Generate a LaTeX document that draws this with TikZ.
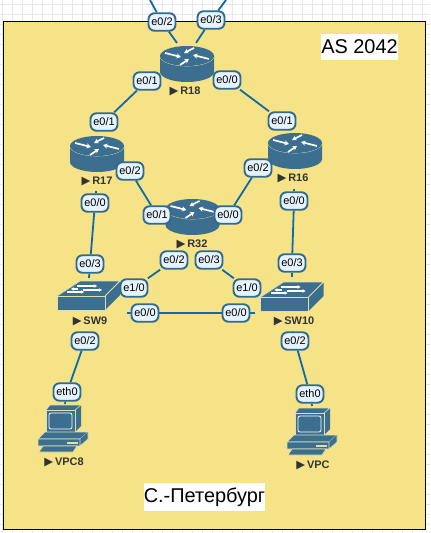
\documentclass[tikz,border=0pt]{standalone}
\usepackage{fontspec}
\usetikzlibrary{arrows.meta}
\setmainfont{Liberation Sans}
\newfontfamily\symfont{DejaVu Sans}
\definecolor{deskyellow}{HTML}{F6E388}
\definecolor{gear}{HTML}{3C6E8F}
\definecolor{gearedge}{HTML}{DCE0B0}
\definecolor{wire}{HTML}{0F6BA8}
\definecolor{pillfill}{HTML}{E6F3FD}
\definecolor{pilledge}{HTML}{2F6A8F}
\definecolor{tagtext}{HTML}{333333}
\tikzset{
  port/.style={draw=pilledge,fill=pillfill,line width=1.9bp,rounded corners=6bp,
    minimum width=27bp,minimum height=17.5bp,inner sep=0pt,font=\fontsize{11}{12}\selectfont},
  link/.style={draw=wire,line width=1.8bp},
  tag/.style={text=tagtext,inner sep=0pt,font=\fontsize{11}{12}\selectfont\bfseries},
  note/.style={fill=white,inner sep=0pt,font=\fontsize{20}{24}\selectfont},
  router/.pic={
    \fill[gear] (-27,-6) -- (-27,10) arc[start angle=180,end angle=0,x radius=27,y radius=10] -- (27,-6) -- cycle;
    \draw[gearedge,line width=.7bp] (-27,-6) arc[start angle=180,end angle=0,x radius=27,y radius=10];
    \fill[gear] (0,-6) ellipse[x radius=27,y radius=10];
    \foreach \a/\b/\c/\d in {-22/-9/-6/-5,22/-3/6/-7,-7/3/2/-3,7/-14/-3/-9}
      \draw[white,line width=1.7bp,-{Stealth[length=4.5bp,width=5bp]}] (\a,\b) -- (\c,\d);
  },
  switchbox/.pic={
    \fill[gear] (-24,-7) -- (-1,-22) -- (39,-22) -- (39,-8) -- (24,7) -- (-24,7) -- cycle;
    \draw[gearedge,line width=.8bp] (-24,-7) rectangle (24,7);
    \draw[gearedge,line width=.8bp] (-24,-7) -- (-1,-22) -- (39,-22) -- (24,-7);
    \foreach \a/\b/\c in {-4/-17/16,2/-13/21,-14/-11/3,-3/-14/-10}
      \draw[white,line width=1.2bp,-{Stealth[length=3bp,width=3.5bp]}] (\a,\b) -- (\c,\b);
  },
  desktop/.pic={
    \fill[gear] (-17,-22) -- (-13,-27) -- (18,-27) -- (18,-6) -- (12,0) -- (-17,0) -- cycle;
    \draw[gearedge,line width=.6bp] (-17,-22) rectangle (12,0);
    \draw[gearedge,line width=.6bp] (-17,-22) -- (-13,-27) -- (18,-27) -- (12,-22);
    \draw[white,line width=.8bp,rounded corners=2bp,fill=gear] (-14,-19) rectangle (9,-3);
    \fill[gear,draw=gearedge,line width=.6bp] (-18,0) -- (25,0) -- (17,7) -- (-25,7) -- cycle;
    \fill[gear] (-25,7) rectangle (17,14);
    \fill[gear] (17,14) -- (25,7) -- (25,0) -- (17,7) -- cycle;
    \draw[gearedge,line width=.6bp] (-25,7) rectangle (17,14) (17,14) -- (25,7) -- (25,0);
    \fill[gearedge] (4,10) rectangle (15,12);
    \fill[gear,draw=gearedge,line width=.6bp] (-20,14) -- (14,14) -- (10,20) -- (-24,20) -- cycle;
  },
}
\newcommand{\devtag}[1]{{\symfont\fontsize{11.5}{12}\selectfont\char"25B6}\,#1}
\begin{document}
\begin{tikzpicture}[x=1bp,y=-1bp]
    \useasboundingbox (0,0) rectangle (430,533);
    \fill[white] (0,0) rectangle (430,533);
    \begin{scope}
        \clip (0,0) rectangle (430,533);
        \foreach \i in {0,...,43}
            \draw[black!9,line width=.8bp] (2.7+10*\i,0) -- (2.7+10*\i,533);
        \foreach \i in {0,...,53}
            \draw[black!9,line width=.8bp] (0,4.5+10*\i) -- (430,4.5+10*\i);
    \end{scope}
    \draw[black,fill=deskyellow,line width=1bp] (3.5,21.5) rectangle (425.5,529);

    % Devices
    \pic at (187,62) {router};
    \pic at (97,152) {router};
    \pic at (295,149) {router};
    \pic at (192.5,215) {router};
    \pic at (81,303) {switchbox};
    \pic at (284.5,304) {switchbox};
    \pic at (63,432) {desktop};
    \pic at (312,435) {desktop};

    \node[tag] (r18) at (185,91) {\devtag{R18}};
    \node[tag] (r17) at (97,181) {\devtag{R17}};
    \node[tag] (r16) at (293,178) {\devtag{R16}};
    \node[tag] (r32) at (192,244) {\devtag{R32}};
    \node[tag] (sw9) at (90,321) {\devtag{SW9}};
    \node[tag] (sw10) at (294,321) {\devtag{SW10}};
    \node[tag] (vpc8) at (64,462) {\devtag{VPC8}};
    \node[tag] (vpc) at (313,465) {\devtag{VPC}};

    % Ports
    \node[port] (r18e2) at (162,22) {e0/2};
    \node[port] (r18e3) at (211,20) {e0/3};
    \node[port] (r18e1) at (147,81) {e0/1};
    \node[port] (r18e0) at (227,80) {e0/0};
    \node[port] (r17e1) at (104,122) {e0/1};
    \node[port] (r16e1) at (282,121) {e0/1};
    \node[port] (r17e2) at (130,171) {e0/2};
    \node[port] (r16e2) at (258,168) {e0/2};
    \node[port] (r32e1) at (157,215) {e0/1};
    \node[port] (r32e0) at (228,215) {e0/0};
    \node[port] (r17e0) at (95,203) {e0/0};
    \node[port] (r16e0) at (294,201) {e0/0};
    \node[port] (sw9e3) at (90,264) {e0/3};
    \node[port] (sw10e3) at (292,263) {e0/3};
    \node[port] (r32e2) at (174,260) {e0/2};
    \node[port] (r32e3) at (209,260) {e0/3};
    \node[port] (sw9e10) at (134,288) {e1/0};
    \node[port] (sw10e10) at (247,288) {e1/0};
    \node[port] (sw9e0) at (145,313) {e0/0};
    \node[port] (sw10e0) at (236,313) {e0/0};
    \node[port] (sw9e2) at (85,341) {e0/2};
    \node[port] (sw10e2) at (295,341) {e0/2};
    \node[port] (vpc8e) at (67,392) {eth0};
    \node[port] (vpce) at (310,394) {eth0};

    % Free ends of the lines
    \coordinate (up1) at (150,0);
    \coordinate (up2) at (226,0);
    \coordinate (r18a) at (177,43);
    \coordinate (r18b) at (196,43);
    \coordinate (r17s) at (96,191);
    \coordinate (sw9n) at (89,278);
    \coordinate (r16s) at (294,189);
    \coordinate (sw10n) at (292,277);
    \coordinate (sw9w) at (127,313);
    \coordinate (sw10w) at (255,313);
    \coordinate (vpc8n) at (65,404);
    \coordinate (vpcn) at (312,406);
    \coordinate (sw10s) at (293,331);

    % Lines
    \foreach \a/\b in {up1/r18e2,r18e2/r18a,up2/r18e3,r18e3/r18b,r18e1/r17e1,r18e0/r16e1,
        r17e2/r32e1,r32e0/r16e2,r17s/r17e0,r17e0/sw9e3,sw9e3/sw9n,r16s/r16e0,r16e0/sw10e3,
        sw10e3/sw10n,r32e2/sw9e10,r32e3/sw10e10,sw9w/sw9e0,sw9e0/sw10e0,sw10e0/sw10w,
        sw9e2/vpc8e,vpc8e/vpc8n,sw10s/sw10e2,sw10e2/vpce,vpce/vpcn}
        \draw[link] (\a) -- (\b);

    \node[note,minimum width=77bp,minimum height=26bp] (as) at (359.5,47) {AS 2042};
    \node[note,minimum width=121bp,minimum height=28bp] (city) at (204.5,497) {С.-Петербург};
\end{tikzpicture}
\end{document}
